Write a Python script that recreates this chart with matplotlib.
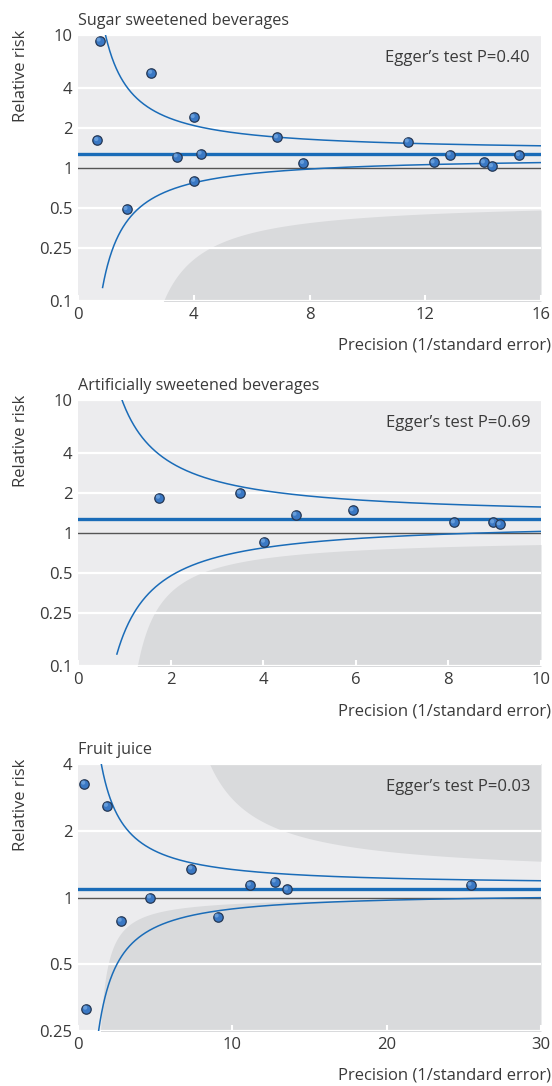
#!/usr/bin/env python3
"""Funnel plots of relative risk against precision for three beverage groups."""

import matplotlib.pyplot as plt
import matplotlib.transforms as mtransforms
import numpy as np

plt.rcParams['font.family'] = ['Open Sans', 'DejaVu Sans']

# ---- data --------------------------------------------------------------
titles = ['Sugar sweetened beverages',
          'Artificially sweetened beverages',
          'Fruit juice']
egger_labels = ['Egger\u2019s test P=0.40',
                'Egger\u2019s test P=0.69',
                'Egger\u2019s test P=0.03']

ssb_precision = [0.75, 2.53, 0.67, 4.00, 3.41, 4.24, 6.88, 7.78, 1.68, 4.02,
                 11.40, 12.29, 12.85, 14.03, 14.31, 15.24]
ssb_rr = [9.07, 5.19, 1.62, 2.41, 1.22, 1.28, 1.70, 1.09, 0.49, 0.80,
          1.58, 1.10, 1.26, 1.10, 1.03, 1.25]

asb_precision = [1.75, 3.50, 4.02, 4.70, 5.93, 8.12, 8.97, 9.11]
asb_rr = [1.84, 2.00, 0.86, 1.37, 1.48, 1.20, 1.20, 1.16]

juice_precision = [0.41, 1.88, 0.54, 2.77, 4.67, 7.35, 9.05, 11.14, 12.75,
                   13.55, 25.44]
juice_rr = [3.26, 2.59, 0.315, 0.785, 1.00, 1.35, 0.82, 1.14, 1.18, 1.087,
            1.14]

pooled_rr = [1.27, 1.27, 1.09]
tau = [0.04, 0.04, 0.03]          # between-study sd used for the funnel limits
funnel_start = [0.85, 0.84, 0.5]  # lowest precision where the limits are drawn

x_max = [16, 10, 30]
x_ticks = [[0, 4, 8, 12, 16], [0, 2, 4, 6, 8, 10], [0, 10, 20, 30]]
y_lims = [(0.1, 10), (0.1, 10), (0.25, 4)]
y_ticks = [[0.1, 0.25, 0.5, 1, 2, 4, 10],
           [0.1, 0.25, 0.5, 1, 2, 4, 10],
           [0.25, 0.5, 1, 2, 4]]
y_ticklabels = [['0.1', '0.25', '0.5', '1', '2', '4', '10'],
                ['0.1', '0.25', '0.5', '1', '2', '4', '10'],
                ['0.25', '0.5', '1', '2', '4']]

# shaded regions: ln(RR) boundary = a + b / (x - x0)
shade_regions = [
    [('below', -0.552, -2.55, 1.5)],
    [('below', -0.072, -1.185, 0.75)],
    [('below', 0.014, -0.707, 0.95), ('above', 0.225, 3.75, 5.3)],
]

precisions = [ssb_precision, asb_precision, juice_precision]
risks = [ssb_rr, asb_rr, juice_rr]

# ---- style --------------------------------------------------------------
TEXT = '#3a3a3a'
BG = '#ececee'
SHADE = '#d9dadc'
BLUE = '#1a6cb8'
DOT = '#3a78c4'
DOT_EDGE = '#243754'
FS = 12

fig = plt.figure(figsize=(5.52, 10.86), dpi=100)
W, H = 552, 1086
boxes = [(78, 35, 541, 301), (78, 400, 541, 666), (78, 764, 541, 1031)]

for i, (l, t, r, b) in enumerate(boxes):
    ax = fig.add_axes([l / W, 1 - b / H, (r - l) / W, (b - t) / H])
    ax.set_facecolor(BG)
    for s in ax.spines.values():
        s.set_visible(False)
    ax.set_yscale('log')
    ymin, ymax = y_lims[i]
    ax.set_xlim(0, x_max[i])
    ax.set_ylim(ymin, ymax)

    # shaded areas
    for side, a, bb, x0 in shade_regions[i]:
        xs = np.linspace(x0 + 1e-3, x_max[i], 600)
        edge = np.exp(np.clip(a + bb / (xs - x0), -20, 20))
        edge = np.clip(edge, ymin * 0.5, ymax * 2)
        if side == 'below':
            ax.fill_between(xs, ymin * 0.5, edge, color=SHADE, lw=0, zorder=0.5)
        else:
            ax.fill_between(xs, edge, ymax * 2, color=SHADE, lw=0, zorder=0.5)

    # white grid lines (null line drawn separately)
    for yv in y_ticks[i]:
        if yv != 1:
            ax.axhline(yv, color='white', lw=1.6, zorder=1)
    ax.axhline(1, color='#555555', lw=1.0, zorder=2)

    # funnel limits around the pooled estimate
    xs = np.linspace(funnel_start[i], x_max[i], 800)
    hw = 1.96 * np.sqrt(1 / xs ** 2 + tau[i] ** 2)
    ax.plot(xs, pooled_rr[i] * np.exp(hw), color=BLUE, lw=1.1, zorder=3)
    ax.plot(xs, pooled_rr[i] * np.exp(-hw), color=BLUE, lw=1.1, zorder=3)
    ax.axhline(pooled_rr[i], color=BLUE, lw=2.4, zorder=3)

    # study points with a small highlight for the glossy look
    ax.scatter(precisions[i], risks[i], s=46, facecolor=DOT,
               edgecolor=DOT_EDGE, linewidth=0.9, zorder=5, clip_on=False)
    shift = mtransforms.offset_copy(ax.transData, fig=fig, x=-0.8, y=0.8,
                                    units='points')
    ax.scatter(precisions[i], risks[i], s=9, facecolor='#7aaee6',
               edgecolor='none', alpha=0.7, zorder=6, clip_on=False,
               transform=shift)

    ax.set_xticks(x_ticks[i])
    ax.set_xticklabels([str(v) for v in x_ticks[i]])
    ax.set_yticks(y_ticks[i])
    ax.set_yticklabels(y_ticklabels[i])
    ax.minorticks_off()
    ax.tick_params(axis='x', direction='in', length=4, width=1.5,
                   color='white', pad=4, labelsize=FS, labelcolor=TEXT)
    ax.tick_params(axis='y', length=0, pad=4, labelsize=FS, labelcolor=TEXT)

    hpx = b - t
    ax.text(0, 1 + 10 / hpx, titles[i], transform=ax.transAxes,
            ha='left', va='baseline', fontsize=11.6, color=TEXT)
    ax.text((530 - l) / (r - l), 1 - 23 / hpx, egger_labels[i],
            transform=ax.transAxes, ha='right', va='center',
            fontsize=FS, color=TEXT)
    ax.text(-(l - 21) / (r - l), 1 + 5 / hpx, 'Relative risk',
            transform=ax.transAxes, rotation=90, ha='center', va='top',
            fontsize=FS, color=TEXT)
    ax.text((551 - l) / (r - l), -45 / hpx, 'Precision (1/standard error)',
            transform=ax.transAxes, ha='right', va='center',
            fontsize=FS, color=TEXT)

fig.savefig('out.png', dpi=100)
